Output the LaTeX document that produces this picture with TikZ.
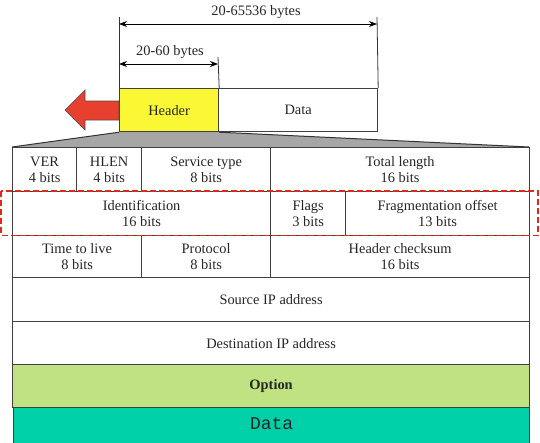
\documentclass[tikz,border=0pt]{standalone}
\usepackage{fontspec}
\setmainfont{Liberation Serif}
\setmonofont{Liberation Mono}
\usetikzlibrary{arrows.meta}

\definecolor{hdryellow}{RGB}{250,248,52}
\definecolor{optgreen}{RGB}{192,226,130}
\definecolor{datateal}{RGB}{0,208,168}
\definecolor{arrowred}{RGB}{232,64,47}
\definecolor{dashred}{RGB}{222,42,22}
\definecolor{fanned}{RGB}{166,166,166}

\tikzset{
  cell/.style={draw=black!75, line width=1.2pt, anchor=north west, inner sep=0pt,
    align=center, text=black!85, font=\fontsize{14.4}{16}\selectfont},
  dimline/.style={draw=black!80, line width=0.8pt},
  dimarrow/.style={line width=0.8pt, {Stealth[length=8pt,width=6pt]}-{Stealth[length=8pt,width=6pt]}},
  dimlabel/.style={inner sep=0pt, text=black!85, font=\fontsize{14.4}{16}\selectfont},
}

\begin{document}
\begin{tikzpicture}[x=1pt,y=-1pt]
        \useasboundingbox (0,0) rectangle (540,442);
        \clip (0,0) rectangle (540,442);

        % datagram: header + data
        \node[cell, fill=hdryellow, minimum width=99pt, minimum height=43pt] (hdr) at (119,88) {Header};
        \node[cell, fill=white, minimum width=159pt, minimum height=43pt] (dat) at (218,88) {Data};

        % sizes
        \coordinate (totL) at (119,24);
        \coordinate (totR) at (377,24);
        \coordinate (hdrL) at (119,64);
        \coordinate (hdrR) at (218,64);
        \draw[dimline] (hdr.north west) -- (119,17);
        \draw[dimline] (dat.north east) -- (377,17);
        \draw[dimline] (hdr.north east) -- (218,57);
        \draw[dimarrow] (totL) -- (totR);
        \draw[dimarrow] (hdrL) -- (hdrR);
        \node[dimlabel] (totlbl) at (256,12) {20-65536 bytes};
        \node[dimlabel] (hdrlbl) at (170,52) {20-60 bytes};

        % red arrow
        \draw[fill=arrowred, draw=black!70, line width=0.6pt]
            (hdr.west |- 0,101) -- (85,101) -- (85,90) -- (65,110) -- (85,130) -- (85,120) -- (hdr.west |- 0,120) -- cycle;

        % fan out to the header fields
        \fill[fanned] (12,147) -- (hdr.south west) -- (hdr.south east) -- (529,147) -- cycle;
        \draw[black!80, line width=1pt] (12,147) -- (hdr.south west);
        \draw[black!80, line width=1pt] (hdr.south east) -- (529,147);

        % row 1
        \node[cell, fill=white, minimum width=64pt, minimum height=44pt] (ver) at (12,147) {VER\\4 bits};
        \node[cell, fill=white, minimum width=65pt, minimum height=44pt] (hlen) at (76,147) {HLEN\\4 bits};
        \node[cell, fill=white, minimum width=129pt, minimum height=44pt] (tos) at (141,147) {Service type\\8 bits};
        \node[cell, fill=white, minimum width=259pt, minimum height=44pt] (totlen) at (270,147) {Total length\\16 bits};
        % row 2
        \node[cell, fill=white, minimum width=258pt, minimum height=44pt] (ident) at (12,191) {Identification\\16 bits};
        \node[cell, fill=white, minimum width=75pt, minimum height=44pt] (flags) at (270,191) {Flags\\3 bits};
        \node[cell, fill=white, minimum width=184pt, minimum height=44pt] (fragoff) at (345,191) {Fragmentation offset\\13 bits};
        % row 3
        \node[cell, fill=white, minimum width=129pt, minimum height=42pt] (ttl) at (12,235) {Time to live\\8 bits};
        \node[cell, fill=white, minimum width=129pt, minimum height=42pt] (proto) at (141,235) {Protocol\\8 bits};
        \node[cell, fill=white, minimum width=259pt, minimum height=42pt] (chksum) at (270,235) {Header checksum\\16 bits};
        % rows 4-7
        \node[cell, fill=white, minimum width=517pt, minimum height=44pt] (srcip) at (12,277) {Source IP address};
        \node[cell, fill=white, minimum width=517pt, minimum height=43pt] (dstip) at (12,321) {Destination IP address};
        \node[cell, fill=optgreen, minimum width=517pt, minimum height=43pt] (opt) at (12,364) {\textbf{Option}};
        \node[cell, fill=datateal, minimum width=516pt, minimum height=52pt, text depth=20pt,
              font=\fontsize{18}{20}\ttfamily] (payload) at (13,407) {Data};

        % highlighted row
        \draw[dashred, line width=1.3pt, dash pattern=on 6pt off 3pt] (1,191) rectangle (538,235.5);
\end{tikzpicture}
\end{document}
